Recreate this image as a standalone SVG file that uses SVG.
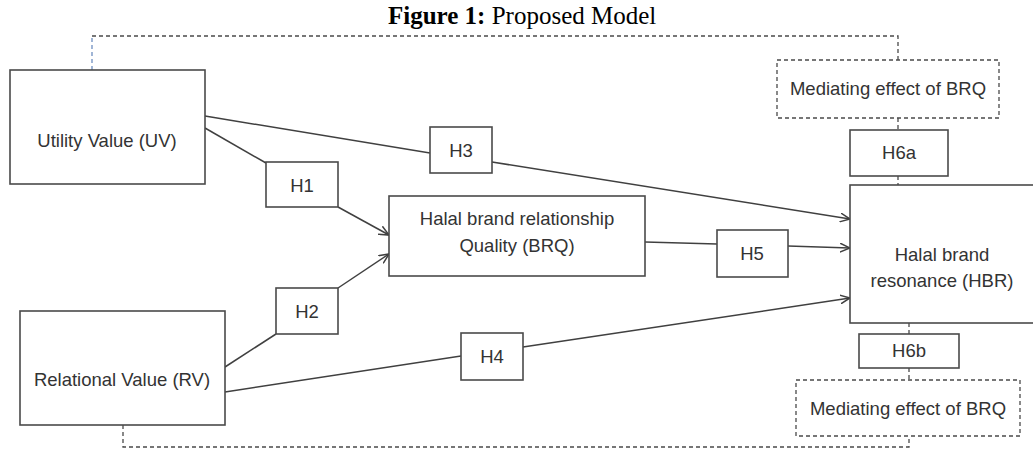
<svg xmlns="http://www.w3.org/2000/svg" width="1033" height="450" viewBox="0 0 1033 450">
  <style>
    .box { fill: #ffffff; stroke: #4a4a4a; stroke-width: 1.6; }
    .dbox { fill: #ffffff; stroke: #4a4a4a; stroke-width: 1.3; stroke-dasharray: 4 3; }
    .lbl { font-family: "Liberation Sans", Arial, sans-serif; font-size: 18.5px; fill: #333333; text-anchor: middle; }
    .line { fill: none; stroke: #404040; stroke-width: 1.5; }
    .arrow { fill: none; stroke: #404040; stroke-width: 1.5; marker-end: url(#open); }
    .dash { fill: none; stroke: #4a4a4a; stroke-width: 1.3; stroke-dasharray: 4 3; }
    .title { font-family: "Liberation Serif", "Times New Roman", serif; font-size: 25px; fill: #000000; }
  </style>
  <defs>
    <marker id="open" viewBox="0 0 10 10" refX="10" refY="5" markerWidth="10" markerHeight="10" markerUnits="userSpaceOnUse" orient="auto">
      <path d="M0,0.5 L10,5 L0,9.5" fill="none" stroke="#404040" stroke-width="1.5"/>
    </marker>
  </defs>
  <rect width="1033" height="450" fill="#ffffff"/>

  <g id="title">
    <text class="title" x="388" y="24"><tspan font-weight="bold">Figure 1:</tspan> Proposed Model</text>
  </g>

  <g id="connectors">
    <path class="dash" d="M92,70 V36" style="stroke:#6f8fc0"/>
    <path class="dash" d="M92,36 H898 V60"/>
    <path class="dash" d="M898,118 V130"/>
    <path class="dash" d="M898,176 V185"/>
    <path class="dash" d="M909,323 V334"/>
    <path class="dash" d="M909,368 V380"/>
    <path class="dash" d="M123,425 V447 H909 V436"/>

    <path class="line" d="M205,116 L430,153"/>
    <path class="arrow" d="M492,162 L850,219"/>
    <path class="line" d="M205,128 L266,163"/>
    <path class="arrow" d="M338,207 L389,235"/>
    <path class="line" d="M225,367 L276,334"/>
    <path class="arrow" d="M338,288 L389,254"/>
    <path class="line" d="M225,392 L461,356"/>
    <path class="arrow" d="M523,347 L850,298"/>
    <path class="line" d="M645,242 L717,244"/>
    <path class="arrow" d="M788,246 L850,248"/>
  </g>

  <g id="uv">
    <rect class="box" x="10" y="70" width="195" height="114"/>
    <text class="lbl" x="107" y="147">Utility Value (UV)</text>
  </g>
  <g id="rv">
    <rect class="box" x="20" y="311" width="205" height="114"/>
    <text class="lbl" x="122" y="386">Relational Value (RV)</text>
  </g>
  <g id="brq">
    <rect class="box" x="389" y="196" width="256" height="80"/>
    <text class="lbl" x="517" y="225">Halal brand relationship</text>
    <text class="lbl" x="517" y="252">Quality (BRQ)</text>
  </g>
  <g id="hbr">
    <rect class="box" x="850" y="185" width="190" height="138"/>
    <text class="lbl" x="942" y="261">Halal brand</text>
    <text class="lbl" x="942" y="287">resonance (HBR)</text>
  </g>
  <g id="h1">
    <rect class="box" x="266" y="162" width="72" height="45"/>
    <text class="lbl" x="302" y="192">H1</text>
  </g>
  <g id="h2">
    <rect class="box" x="276" y="288" width="62" height="46"/>
    <text class="lbl" x="307" y="318">H2</text>
  </g>
  <g id="h3">
    <rect class="box" x="430" y="127" width="62" height="46"/>
    <text class="lbl" x="461" y="157">H3</text>
  </g>
  <g id="h4">
    <rect class="box" x="461" y="333" width="62" height="47"/>
    <text class="lbl" x="492" y="363">H4</text>
  </g>
  <g id="h5">
    <rect class="box" x="717" y="230" width="71" height="47"/>
    <text class="lbl" x="752" y="260">H5</text>
  </g>
  <g id="h6a">
    <rect class="box" x="850" y="130" width="98" height="46"/>
    <text class="lbl" x="899" y="159">H6a</text>
  </g>
  <g id="h6b">
    <rect class="box" x="859" y="334" width="100" height="34"/>
    <text class="lbl" x="909" y="357">H6b</text>
  </g>
  <g id="med1">
    <rect class="dbox" x="777" y="60" width="222" height="58"/>
    <text class="lbl" x="888" y="95">Mediating effect of BRQ</text>
  </g>
  <g id="med2">
    <rect class="dbox" x="796" y="380" width="224" height="56"/>
    <text class="lbl" x="908" y="415">Mediating effect of BRQ</text>
  </g>
</svg>
